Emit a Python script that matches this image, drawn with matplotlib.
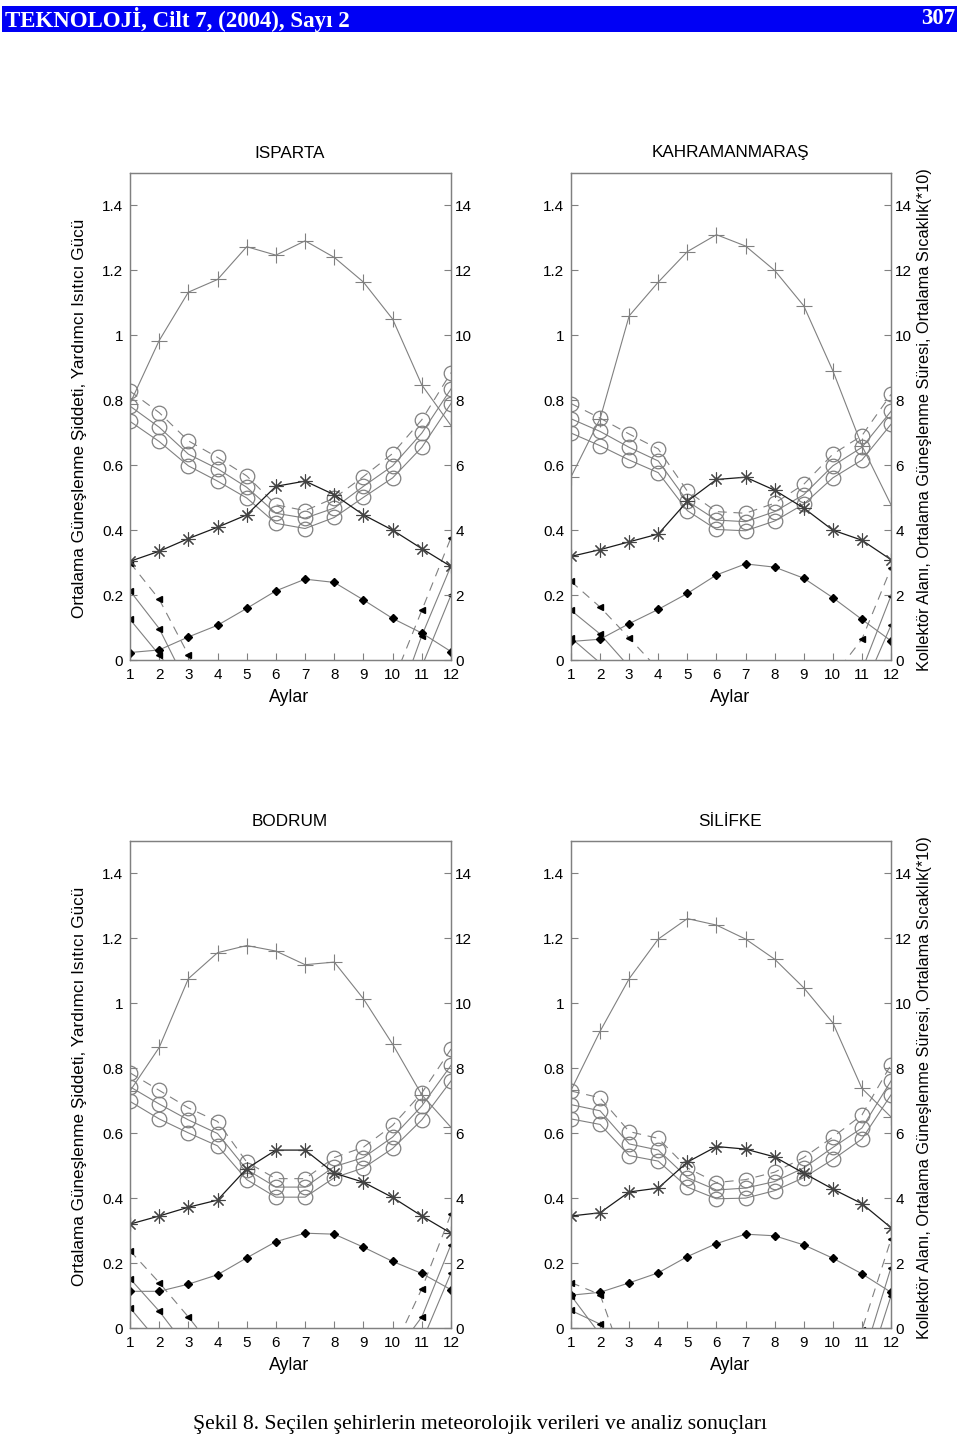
import matplotlib
matplotlib.use("Agg")
import matplotlib.pyplot as plt
from matplotlib.patches import Rectangle
import numpy as np

plt.rcParams['font.family'] = ['Liberation Sans', 'DejaVu Sans']

months = list(range(1, 13))
month_labels = [str(m) for m in months]
left_ticks = [0, 0.2, 0.4, 0.6, 0.8, 1.0, 1.2, 1.4]
left_tick_labels = ["0", "0.2", "0.4", "0.6", "0.8", "1", "1.2", "1.4"]
right_ticks = [0, 2, 4, 6, 8, 10, 12, 14]
right_tick_labels = ["0", "2", "4", "6", "8", "10", "12", "14"]

cities = ["ISPARTA", "KAHRAMANMARAŞ", "BODRUM", "SİLİFKE"]

# right axis: sunshine duration (+), collector area (*), temperature/10 (diamond)
isparta_sun = [7.9, 9.84, 11.33, 11.72, 12.73, 12.47, 12.91, 12.40, 11.64, 10.50, 8.47, 7.22]
isparta_area = [3.04, 3.35, 3.74, 4.09, 4.47, 5.35, 5.51, 5.09, 4.47, 4.00, 3.43, 2.88]
isparta_temp = [0.23, 0.31, 0.71, 1.07, 1.59, 2.13, 2.49, 2.39, 1.85, 1.28, 0.83, 0.26]
# left axis: circles (three cases) and auxiliary heater power (triangles)
isparta_c1 = [0.828, 0.762, 0.675, 0.624, 0.567, 0.478, 0.460, 0.499, 0.565, 0.636, 0.740, 0.885]
isparta_c2 = [0.782, 0.717, 0.634, 0.589, 0.532, 0.452, 0.437, 0.468, 0.535, 0.598, 0.699, 0.835]
isparta_c3 = [0.735, 0.673, 0.598, 0.551, 0.499, 0.421, 0.405, 0.439, 0.501, 0.561, 0.655, 0.790]
isparta_t1 = [0.300, 0.187, 0.016, -0.20, -0.35, -0.45, -0.50, -0.45, -0.35, -0.07, 0.153, 0.377]
isparta_t2 = [0.213, 0.097, -0.083, -0.25, -0.40, -0.50, -0.55, -0.50, -0.40, -0.175, 0.075, 0.290]
isparta_t3 = [0.125, 0.016, -0.10, -0.30, -0.45, -0.55, -0.60, -0.55, -0.45, -0.25, -0.02, 0.200]

kmaras_sun = [5.64, 7.43, 10.60, 11.64, 12.58, 13.10, 12.75, 12.00, 10.91, 8.91, 6.60, 4.78]
kmaras_area = [3.19, 3.40, 3.64, 3.88, 4.89, 5.56, 5.63, 5.23, 4.68, 4.00, 3.69, 3.09]
kmaras_temp = [0.57, 0.64, 1.12, 1.56, 2.05, 2.62, 2.96, 2.86, 2.52, 1.92, 1.25, 0.59]
kmaras_c1 = [0.790, 0.745, 0.696, 0.650, 0.520, 0.457, 0.452, 0.483, 0.541, 0.634, 0.691, 0.818]
kmaras_c2 = [0.743, 0.704, 0.655, 0.613, 0.489, 0.431, 0.426, 0.457, 0.509, 0.598, 0.655, 0.766]
kmaras_c3 = [0.699, 0.660, 0.616, 0.577, 0.460, 0.402, 0.398, 0.428, 0.480, 0.561, 0.616, 0.726]
kmaras_t1 = [0.242, 0.163, 0.068, -0.029, -0.20, -0.35, -0.40, -0.35, -0.20, -0.052, 0.064, 0.283]
kmaras_t2 = [0.153, 0.080, -0.021, -0.15, -0.30, -0.40, -0.45, -0.40, -0.30, -0.15, -0.032, 0.198]
kmaras_t3 = [0.068, -0.009, -0.10, -0.25, -0.35, -0.45, -0.50, -0.45, -0.35, -0.25, -0.099, 0.107]

bodrum_sun = [7.3, 8.64, 10.76, 11.56, 11.78, 11.61, 11.19, 11.27, 10.14, 8.74, 7.18, 6.18]
bodrum_area = [3.20, 3.45, 3.72, 3.94, 4.91, 5.48, 5.48, 4.77, 4.49, 4.02, 3.45, 2.92]
bodrum_temp = [1.13, 1.13, 1.35, 1.64, 2.16, 2.66, 2.92, 2.89, 2.49, 2.05, 1.68, 1.18]
bodrum_c1 = [0.786, 0.732, 0.678, 0.636, 0.511, 0.460, 0.460, 0.525, 0.557, 0.624, 0.724, 0.859]
bodrum_c2 = [0.743, 0.690, 0.641, 0.599, 0.488, 0.434, 0.434, 0.497, 0.525, 0.588, 0.684, 0.809]
bodrum_c3 = [0.698, 0.644, 0.601, 0.561, 0.457, 0.403, 0.403, 0.463, 0.493, 0.553, 0.641, 0.761]
bodrum_t1 = [0.238, 0.140, 0.034, -0.079, -0.20, -0.30, -0.35, -0.30, -0.20, -0.071, 0.121, 0.351]
bodrum_t2 = [0.152, 0.052, -0.066, -0.20, -0.30, -0.40, -0.45, -0.40, -0.30, -0.087, 0.034, 0.257]
bodrum_t3 = [0.062, -0.045, -0.15, -0.30, -0.40, -0.50, -0.55, -0.50, -0.40, -0.20, -0.043, 0.170]

silifke_sun = [7.32, 9.14, 10.76, 11.98, 12.61, 12.41, 11.98, 11.36, 10.48, 9.40, 7.38, 6.50]
silifke_area = [3.45, 3.55, 4.19, 4.31, 5.11, 5.59, 5.51, 5.27, 4.77, 4.28, 3.83, 3.09]
silifke_temp = [1.01, 1.10, 1.39, 1.70, 2.20, 2.60, 2.89, 2.84, 2.56, 2.15, 1.67, 1.10]
silifke_c1 = [0.730, 0.709, 0.605, 0.584, 0.493, 0.448, 0.457, 0.480, 0.525, 0.588, 0.656, 0.811]
silifke_c2 = [0.688, 0.669, 0.567, 0.548, 0.463, 0.425, 0.431, 0.451, 0.493, 0.556, 0.616, 0.761]
silifke_c3 = [0.644, 0.627, 0.531, 0.514, 0.434, 0.398, 0.400, 0.423, 0.463, 0.519, 0.582, 0.718]
silifke_t1 = [0.140, 0.103, -0.15, -0.30, -0.40, -0.50, -0.55, -0.50, -0.40, -0.20, -0.006, 0.273]
silifke_t2 = [0.100, -0.02, -0.20, -0.35, -0.45, -0.55, -0.60, -0.55, -0.45, -0.25, -0.105, 0.186]
silifke_t3 = [0.054, 0.012, -0.10, -0.30, -0.40, -0.50, -0.55, -0.50, -0.40, -0.30, -0.18, 0.099]

panel_data = [
    (isparta_sun, isparta_area, isparta_temp, isparta_c1, isparta_c2, isparta_c3,
     isparta_t1, isparta_t2, isparta_t3),
    (kmaras_sun, kmaras_area, kmaras_temp, kmaras_c1, kmaras_c2, kmaras_c3,
     kmaras_t1, kmaras_t2, kmaras_t3),
    (bodrum_sun, bodrum_area, bodrum_temp, bodrum_c1, bodrum_c2, bodrum_c3,
     bodrum_t1, bodrum_t2, bodrum_t3),
    (silifke_sun, silifke_area, silifke_temp, silifke_c1, silifke_c2, silifke_c3,
     silifke_t1, silifke_t2, silifke_t3),
]

W, H = 960, 1439
fig = plt.figure(figsize=(9.6, 14.39), dpi=100)

def fx(px):
    return px / W

def fy(py):
    return 1 - py / H

GRAY = '#808080'
DASH = (0, (8, 6))
FS = 11
SERIF = ['Liberation Serif', 'DejaVu Serif']

# header bar
fig.patches.append(Rectangle((fx(2), fy(32)), fx(955), 26 / H, transform=fig.transFigure,
                             facecolor='#0000f5', edgecolor='none', zorder=0))
fig.text(fx(5), fy(19), "TEKNOLOJİ, Cilt 7, (2004), Sayı 2", color='white',
         family=SERIF, weight='bold', fontsize=16.5, ha='left', va='center')
fig.text(fx(955), fy(19), "307", color='white', family=SERIF,
         weight='bold', fontsize=16.5, ha='right', va='center')

# panel positions (pixels): left, right, top, bottom
boxes = [(130, 451, 173, 660), (571, 891, 173, 660),
         (130, 451, 841, 1328), (571, 891, 841, 1328)]

for i, (name, box, data) in enumerate(zip(cities, boxes, panel_data)):
    sun, area, temp, c1, c2, c3, t1, t2, t3 = data
    l, r, t, b = box
    ax = fig.add_axes([fx(l), fy(b), (r - l) / W, (b - t) / H])
    ax2 = ax.twinx()
    ax.set_xlim(1, 12)
    ax.set_ylim(0, 1.5)
    ax2.set_ylim(0, 15)

    # left axis series
    ax.plot(months, c1, color=GRAY, lw=0.8, linestyle=DASH, marker='o', ms=10.5,
            mfc='none', mec=GRAY, mew=0.9)
    ax.plot(months, c2, color=GRAY, lw=0.8, marker='o', ms=10.5, mfc='none', mec=GRAY, mew=0.9)
    ax.plot(months, c3, color=GRAY, lw=0.8, marker='o', ms=10.5, mfc='none', mec=GRAY, mew=0.9)
    ax.plot(months, t1, color=GRAY, lw=0.8, linestyle=DASH, marker='<', ms=4.5,
            mfc='black', mec='black')
    ax.plot(months, t2, color=GRAY, lw=0.8, marker='<', ms=4.5, mfc='black', mec='black')
    ax.plot(months, t3, color=GRAY, lw=0.8, marker='<', ms=4.5, mfc='black', mec='black')

    # right axis series
    ax2.plot(months, sun, color=GRAY, lw=0.8, marker='+', ms=11, mew=0.8, mec=GRAY)
    ax2.plot(months, area, color='#1a1a1a', lw=0.9, marker=(8, 2, 0), ms=10, mew=0.8,
             mec='#444444')
    ax2.plot(months, temp, color=GRAY, lw=0.8, marker='D', ms=4, mfc='black', mec='black')

    for a in (ax, ax2):
        for s in a.spines.values():
            s.set_color(GRAY)
            s.set_linewidth(0.9)

    ax.set_xticks(months)
    ax.set_xticklabels(month_labels, fontsize=FS)
    ax.set_yticks(left_ticks)
    ax.set_yticklabels(left_tick_labels, fontsize=FS)
    ax.tick_params(axis='x', direction='in', length=5, color=GRAY, pad=6, top=False)
    ax.tick_params(axis='y', direction='in', length=5, color=GRAY, pad=5, right=False)
    ax2.set_yticks(right_ticks)
    ax2.set_yticklabels(right_tick_labels, fontsize=FS)
    ax2.tick_params(axis='y', direction='in', length=5, color=GRAY, pad=3)

    cx = (l + r) / 2
    fig.text(fx(cx - 1), fy(t - 20), name, fontsize=12.3, ha='center', va='center')
    fig.text(fx(cx - 1), fy(b + 37), "Aylar", fontsize=12.8, ha='center', va='center')
    cy = (t + b) / 2
    if i % 2 == 0:
        fig.text(fx(80), fy(cy + 2), "Ortalama Güneşlenme Şiddeti, Yardımcı Isıtıcı Gücü",
                 fontsize=12.3, rotation=90, ha='center', va='center')
    else:
        fig.text(fx(925), fy(cy + 3),
                 "Kollektör Alanı, Ortalama Güneşlenme Süresi, Ortalama Sıcaklık(*10)",
                 fontsize=11.7, rotation=90, ha='center', va='center')

fig.text(0.5, fy(1425), "Şekil 8. Seçilen şehirlerin meteorolojik verileri ve analiz sonuçları",
         family=SERIF, fontsize=15.6, ha='center', va='center')

fig.savefig("out.png", dpi=100)
